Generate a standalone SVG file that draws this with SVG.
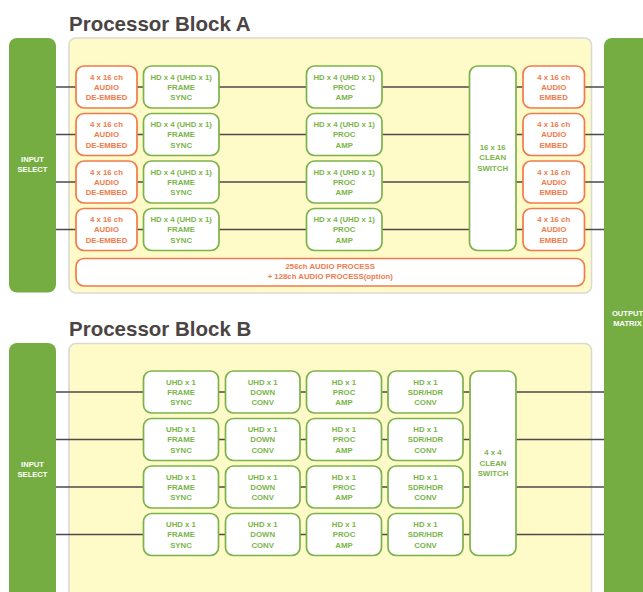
<svg xmlns="http://www.w3.org/2000/svg" width="643" height="592" viewBox="0 0 643 592">
  <style>
    .title { font-family: "Liberation Sans", Arial, sans-serif; font-weight: bold; font-size: 20.5px; fill: #4a4443; }
    .panel { fill: #fffbc9; stroke: #d9d9d6; stroke-width: 1.6; }
    .bar { fill: #76ad42; }
    .barText { font-family: "Liberation Sans", Arial, sans-serif; font-weight: bold; font-size: 7.6px; fill: #ffffff; text-anchor: middle; }
    .gbox { fill: #ffffff; stroke: #7cb24a; stroke-width: 1.7; }
    .obox { fill: #ffffff; stroke: #f07a4b; stroke-width: 1.7; }
    .gt { font-family: "Liberation Sans", Arial, sans-serif; font-weight: bold; font-size: 7.8px; fill: #7ab549; text-anchor: middle; }
    .ot { font-family: "Liberation Sans", Arial, sans-serif; font-weight: bold; font-size: 7.8px; fill: #f07a4b; text-anchor: middle; }
    .conn { stroke: #4f4a48; stroke-width: 1.5; fill: none; }
  </style>

  <rect width="643" height="592" fill="#ffffff"/>

  <!-- ===== Processor Block A ===== -->
  <text class="title" x="69" y="31">Processor Block A</text>
  <rect class="panel" x="69" y="38" width="522.5" height="255" rx="7"/>

  <!-- Block B panel and title -->
  <text class="title" x="69" y="336">Processor Block B</text>
  <rect class="panel" x="69" y="343.5" width="522.5" height="270" rx="7"/>

  <!-- connectors -->
  <g id="connectors">
    <!-- block A rows -->
    <path class="conn" d="M56 87H76 M137 87H143.5 M219 87H306.5 M382 87H469.5 M516 87H523 M584.5 87H604"/>
    <path class="conn" d="M56 134.5H76 M137 134.5H143.5 M219 134.5H306.5 M382 134.5H469.5 M516 134.5H523 M584.5 134.5H604"/>
    <path class="conn" d="M56 182H76 M137 182H143.5 M219 182H306.5 M382 182H469.5 M516 182H523 M584.5 182H604"/>
    <path class="conn" d="M56 229.5H76 M137 229.5H143.5 M219 229.5H306.5 M382 229.5H469.5 M516 229.5H523 M584.5 229.5H604"/>
    <!-- block B rows -->
    <path class="conn" d="M56 392H143.5 M218.5 392H225.5 M300 392H306.5 M381.5 392H388 M463 392H470 M516 392H604"/>
    <path class="conn" d="M56 439.5H143.5 M218.5 439.5H225.5 M300 439.5H306.5 M381.5 439.5H388 M463 439.5H470 M516 439.5H604"/>
    <path class="conn" d="M56 487H143.5 M218.5 487H225.5 M300 487H306.5 M381.5 487H388 M463 487H470 M516 487H604"/>
    <path class="conn" d="M56 534.5H143.5 M218.5 534.5H225.5 M300 534.5H306.5 M381.5 534.5H388 M463 534.5H470 M516 534.5H604"/>
  </g>

  <!-- input / output bars -->
  <g id="inputA">
    <rect class="bar" x="9" y="38" width="47" height="254.5" rx="8"/>
    <text class="barText" x="32.5" y="161.8">INPUT</text>
    <text class="barText" x="32.5" y="172.1">SELECT</text>
  </g>
  <g id="inputB">
    <rect class="bar" x="9" y="343" width="47" height="270" rx="8"/>
    <text class="barText" x="32.5" y="467">INPUT</text>
    <text class="barText" x="32.5" y="477.3">SELECT</text>
  </g>
  <g id="outputMatrix">
    <rect class="bar" x="604" y="38" width="47" height="575" rx="8"/>
    <text class="barText" x="627.5" y="315.5">OUTPUT</text>
    <text class="barText" x="627.5" y="325.6">MATRIX</text>
  </g>

  <!-- Block A, row 1 -->
  <g id="a-deembed-1"><rect class="obox" x="76" y="66" width="61" height="42" rx="8"/>
    <text class="ot" x="106.5" y="79.5">4 x 16 ch</text><text class="ot" x="106.5" y="89.8">AUDIO</text><text class="ot" x="106.5" y="100">DE-EMBED</text></g>
  <g id="a-framesync-1"><rect class="gbox" x="143.5" y="66" width="75.5" height="42" rx="8"/>
    <text class="gt" x="181.2" y="79.5">HD x 4 (UHD x 1)</text><text class="gt" x="181.2" y="89.8">FRAME</text><text class="gt" x="181.2" y="100">SYNC</text></g>
  <g id="a-procamp-1"><rect class="gbox" x="306.5" y="66" width="75.5" height="42" rx="8"/>
    <text class="gt" x="344.2" y="79.5">HD x 4 (UHD x 1)</text><text class="gt" x="344.2" y="89.8">PROC</text><text class="gt" x="344.2" y="100">AMP</text></g>
  <g id="a-embed-1"><rect class="obox" x="523" y="66" width="61.5" height="42" rx="8"/>
    <text class="ot" x="553.7" y="79.5">4 x 16 ch</text><text class="ot" x="553.7" y="89.8">AUDIO</text><text class="ot" x="553.7" y="100">EMBED</text></g>

  <!-- Block A, row 2 -->
  <g id="a-deembed-2"><rect class="obox" x="76" y="113.5" width="61" height="42" rx="8"/>
    <text class="ot" x="106.5" y="127">4 x 16 ch</text><text class="ot" x="106.5" y="137.3">AUDIO</text><text class="ot" x="106.5" y="147.5">DE-EMBED</text></g>
  <g id="a-framesync-2"><rect class="gbox" x="143.5" y="113.5" width="75.5" height="42" rx="8"/>
    <text class="gt" x="181.2" y="127">HD x 4 (UHD x 1)</text><text class="gt" x="181.2" y="137.3">FRAME</text><text class="gt" x="181.2" y="147.5">SYNC</text></g>
  <g id="a-procamp-2"><rect class="gbox" x="306.5" y="113.5" width="75.5" height="42" rx="8"/>
    <text class="gt" x="344.2" y="127">HD x 4 (UHD x 1)</text><text class="gt" x="344.2" y="137.3">PROC</text><text class="gt" x="344.2" y="147.5">AMP</text></g>
  <g id="a-embed-2"><rect class="obox" x="523" y="113.5" width="61.5" height="42" rx="8"/>
    <text class="ot" x="553.7" y="127">4 x 16 ch</text><text class="ot" x="553.7" y="137.3">AUDIO</text><text class="ot" x="553.7" y="147.5">EMBED</text></g>

  <!-- Block A, row 3 -->
  <g id="a-deembed-3"><rect class="obox" x="76" y="161" width="61" height="42" rx="8"/>
    <text class="ot" x="106.5" y="174.5">4 x 16 ch</text><text class="ot" x="106.5" y="184.8">AUDIO</text><text class="ot" x="106.5" y="195">DE-EMBED</text></g>
  <g id="a-framesync-3"><rect class="gbox" x="143.5" y="161" width="75.5" height="42" rx="8"/>
    <text class="gt" x="181.2" y="174.5">HD x 4 (UHD x 1)</text><text class="gt" x="181.2" y="184.8">FRAME</text><text class="gt" x="181.2" y="195">SYNC</text></g>
  <g id="a-procamp-3"><rect class="gbox" x="306.5" y="161" width="75.5" height="42" rx="8"/>
    <text class="gt" x="344.2" y="174.5">HD x 4 (UHD x 1)</text><text class="gt" x="344.2" y="184.8">PROC</text><text class="gt" x="344.2" y="195">AMP</text></g>
  <g id="a-embed-3"><rect class="obox" x="523" y="161" width="61.5" height="42" rx="8"/>
    <text class="ot" x="553.7" y="174.5">4 x 16 ch</text><text class="ot" x="553.7" y="184.8">AUDIO</text><text class="ot" x="553.7" y="195">EMBED</text></g>

  <!-- Block A, row 4 -->
  <g id="a-deembed-4"><rect class="obox" x="76" y="208.5" width="61" height="42" rx="8"/>
    <text class="ot" x="106.5" y="222">4 x 16 ch</text><text class="ot" x="106.5" y="232.3">AUDIO</text><text class="ot" x="106.5" y="242.5">DE-EMBED</text></g>
  <g id="a-framesync-4"><rect class="gbox" x="143.5" y="208.5" width="75.5" height="42" rx="8"/>
    <text class="gt" x="181.2" y="222">HD x 4 (UHD x 1)</text><text class="gt" x="181.2" y="232.3">FRAME</text><text class="gt" x="181.2" y="242.5">SYNC</text></g>
  <g id="a-procamp-4"><rect class="gbox" x="306.5" y="208.5" width="75.5" height="42" rx="8"/>
    <text class="gt" x="344.2" y="222">HD x 4 (UHD x 1)</text><text class="gt" x="344.2" y="232.3">PROC</text><text class="gt" x="344.2" y="242.5">AMP</text></g>
  <g id="a-embed-4"><rect class="obox" x="523" y="208.5" width="61.5" height="42" rx="8"/>
    <text class="ot" x="553.7" y="222">4 x 16 ch</text><text class="ot" x="553.7" y="232.3">AUDIO</text><text class="ot" x="553.7" y="242.5">EMBED</text></g>

  <!-- Block A switch and audio processing -->
  <g id="a-cleanswitch"><rect class="gbox" x="469.5" y="66" width="46.5" height="184.5" rx="8"/>
    <text class="gt" x="492.7" y="150">16 x 16</text><text class="gt" x="492.7" y="160.3">CLEAN</text><text class="gt" x="492.7" y="170.8">SWITCH</text></g>
  <g id="a-audioprocess"><rect class="obox" x="76" y="258.5" width="508.5" height="27.5" rx="8"/>
    <text class="ot" x="330.2" y="269.3">256ch AUDIO PROCESS</text><text class="ot" x="330.2" y="279.2">+ 128ch AUDIO PROCESS(option)</text></g>

  <!-- ===== Processor Block B ===== -->
  <!-- row 1 -->
  <g id="b-framesync-1"><rect class="gbox" x="143.5" y="371" width="75" height="42" rx="8"/>
    <text class="gt" x="181" y="384.5">UHD x 1</text><text class="gt" x="181" y="394.8">FRAME</text><text class="gt" x="181" y="405">SYNC</text></g>
  <g id="b-downconv-1"><rect class="gbox" x="225.5" y="371" width="74.5" height="42" rx="8"/>
    <text class="gt" x="262.7" y="384.5">UHD x 1</text><text class="gt" x="262.7" y="394.8">DOWN</text><text class="gt" x="262.7" y="405">CONV</text></g>
  <g id="b-procamp-1"><rect class="gbox" x="306.5" y="371" width="75" height="42" rx="8"/>
    <text class="gt" x="344" y="384.5">HD x 1</text><text class="gt" x="344" y="394.8">PROC</text><text class="gt" x="344" y="405">AMP</text></g>
  <g id="b-sdrhdr-1"><rect class="gbox" x="388" y="371" width="75" height="42" rx="8"/>
    <text class="gt" x="425.5" y="384.5">HD x 1</text><text class="gt" x="425.5" y="394.8">SDR/HDR</text><text class="gt" x="425.5" y="405">CONV</text></g>

  <!-- row 2 -->
  <g id="b-framesync-2"><rect class="gbox" x="143.5" y="418.5" width="75" height="42" rx="8"/>
    <text class="gt" x="181" y="432">UHD x 1</text><text class="gt" x="181" y="442.3">FRAME</text><text class="gt" x="181" y="452.5">SYNC</text></g>
  <g id="b-downconv-2"><rect class="gbox" x="225.5" y="418.5" width="74.5" height="42" rx="8"/>
    <text class="gt" x="262.7" y="432">UHD x 1</text><text class="gt" x="262.7" y="442.3">DOWN</text><text class="gt" x="262.7" y="452.5">CONV</text></g>
  <g id="b-procamp-2"><rect class="gbox" x="306.5" y="418.5" width="75" height="42" rx="8"/>
    <text class="gt" x="344" y="432">HD x 1</text><text class="gt" x="344" y="442.3">PROC</text><text class="gt" x="344" y="452.5">AMP</text></g>
  <g id="b-sdrhdr-2"><rect class="gbox" x="388" y="418.5" width="75" height="42" rx="8"/>
    <text class="gt" x="425.5" y="432">HD x 1</text><text class="gt" x="425.5" y="442.3">SDR/HDR</text><text class="gt" x="425.5" y="452.5">CONV</text></g>

  <!-- row 3 -->
  <g id="b-framesync-3"><rect class="gbox" x="143.5" y="466" width="75" height="42" rx="8"/>
    <text class="gt" x="181" y="479.5">UHD x 1</text><text class="gt" x="181" y="489.8">FRAME</text><text class="gt" x="181" y="500">SYNC</text></g>
  <g id="b-downconv-3"><rect class="gbox" x="225.5" y="466" width="74.5" height="42" rx="8"/>
    <text class="gt" x="262.7" y="479.5">UHD x 1</text><text class="gt" x="262.7" y="489.8">DOWN</text><text class="gt" x="262.7" y="500">CONV</text></g>
  <g id="b-procamp-3"><rect class="gbox" x="306.5" y="466" width="75" height="42" rx="8"/>
    <text class="gt" x="344" y="479.5">HD x 1</text><text class="gt" x="344" y="489.8">PROC</text><text class="gt" x="344" y="500">AMP</text></g>
  <g id="b-sdrhdr-3"><rect class="gbox" x="388" y="466" width="75" height="42" rx="8"/>
    <text class="gt" x="425.5" y="479.5">HD x 1</text><text class="gt" x="425.5" y="489.8">SDR/HDR</text><text class="gt" x="425.5" y="500">CONV</text></g>

  <!-- row 4 -->
  <g id="b-framesync-4"><rect class="gbox" x="143.5" y="513.5" width="75" height="42" rx="8"/>
    <text class="gt" x="181" y="527">UHD x 1</text><text class="gt" x="181" y="537.3">FRAME</text><text class="gt" x="181" y="547.5">SYNC</text></g>
  <g id="b-downconv-4"><rect class="gbox" x="225.5" y="513.5" width="74.5" height="42" rx="8"/>
    <text class="gt" x="262.7" y="527">UHD x 1</text><text class="gt" x="262.7" y="537.3">DOWN</text><text class="gt" x="262.7" y="547.5">CONV</text></g>
  <g id="b-procamp-4"><rect class="gbox" x="306.5" y="513.5" width="75" height="42" rx="8"/>
    <text class="gt" x="344" y="527">HD x 1</text><text class="gt" x="344" y="537.3">PROC</text><text class="gt" x="344" y="547.5">AMP</text></g>
  <g id="b-sdrhdr-4"><rect class="gbox" x="388" y="513.5" width="75" height="42" rx="8"/>
    <text class="gt" x="425.5" y="527">HD x 1</text><text class="gt" x="425.5" y="537.3">SDR/HDR</text><text class="gt" x="425.5" y="547.5">CONV</text></g>

  <!-- Block B switch -->
  <g id="b-cleanswitch"><rect class="gbox" x="470" y="371" width="46" height="184.5" rx="8"/>
    <text class="gt" x="493" y="455">4 x 4</text><text class="gt" x="493" y="465.8">CLEAN</text><text class="gt" x="493" y="476">SWITCH</text></g>
</svg>
